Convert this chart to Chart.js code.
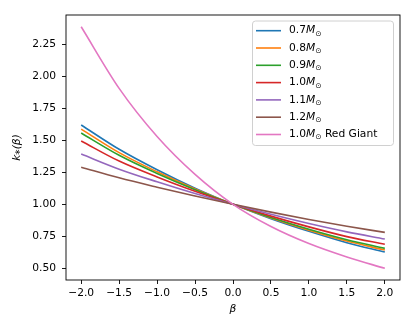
<!DOCTYPE html>
<html lang="en">
<head>
    <meta charset="UTF-8">
    <title>k*(beta)</title>
    <style>
        body { margin: 0; background: #fff; }
        #wrap { width: 415px; height: 332px; }
    </style>
</head>
<body>
    <div id="wrap"><canvas id="kChart" width="415" height="332"></canvas></div>
    <script src="https://cdn.jsdelivr.net/npm/chart.js"></script>
    <script>
        // values at beta = -2 ... 2 step 0.5
        const beta = [-2, -1.5, -1, -0.5, 0, 0.5, 1, 1.5, 2];
        const k07 = [1.62, 1.43, 1.27, 1.126, 1.0, 0.888, 0.789, 0.70, 0.627];
        const k08 = [1.588, 1.404, 1.254, 1.12, 1.0, 0.893, 0.798, 0.713, 0.643];
        const k09 = [1.557, 1.383, 1.241, 1.114, 1.0, 0.898, 0.806, 0.724, 0.656];
        const k10 = [1.495, 1.338, 1.214, 1.102, 1.0, 0.908, 0.824, 0.748, 0.688];
        const k11 = [1.393, 1.275, 1.176, 1.084, 1.0, 0.922, 0.85, 0.785, 0.729];
        const k12 = [1.29, 1.207, 1.134, 1.065, 1.0, 0.939, 0.882, 0.829, 0.781];
        const kRG = [2.387, 1.906, 1.53, 1.234, 1.0, 0.827, 0.694, 0.589, 0.50];

        const masses = ['0.7', '0.8', '0.9', '1.0', '1.1', '1.2', '1.0'];
        const suffixes = ['', '', '', '', '', '', ' Red Giant'];
        const colors = ['#1f77b4', '#ff7f0e', '#2ca02c', '#d62728', '#9467bd', '#8c564b', '#e377c2'];
        const series = [k07, k08, k09, k10, k11, k12, kRG];

        const xTicks = [-2, -1.5, -1, -0.5, 0, 0.5, 1, 1.5, 2];
        const yTicks = [0.5, 0.75, 1.0, 1.25, 1.5, 1.75, 2.0, 2.25];

        const FONT = 'DejaVu Sans';
        Chart.defaults.color = '#000';
        Chart.defaults.font.family = FONT;
        Chart.defaults.font.size = 10.7;

        const datasets = series.map((vals, i) => ({
            label: masses[i] + 'M' + suffixes[i],
            data: vals.map((v, j) => ({ x: beta[j], y: v })),
            borderColor: colors[i],
            backgroundColor: colors[i],
            borderWidth: 1.6,
            pointRadius: 0,
            cubicInterpolationMode: 'monotone',
            order: series.length - i
        }));

        const fmt = v => (v < 0 ? '\u2212' : '') + Math.abs(v).toFixed(v % 0.5 === 0 && yTicks.indexOf(v) < 0 ? 1 : 2);

        const framePlugin = {
            id: 'frame',
            afterDraw(chart) {
                const { ctx, chartArea: a } = chart;
                ctx.save();
                ctx.strokeStyle = '#000';
                ctx.lineWidth = 0.9;
                ctx.strokeRect(a.left, a.top, a.right - a.left, a.bottom - a.top);

                // legend box, matplotlib style, upper right
                const bx = 252.5, by = 21, bw = 141, bh = 124.5, r = 3;
                ctx.beginPath();
                ctx.moveTo(bx + r, by);
                ctx.arcTo(bx + bw, by, bx + bw, by + bh, r);
                ctx.arcTo(bx + bw, by + bh, bx, by + bh, r);
                ctx.arcTo(bx, by + bh, bx, by, r);
                ctx.arcTo(bx, by, bx + bw, by, r);
                ctx.closePath();
                ctx.fillStyle = 'rgba(255,255,255,0.8)';
                ctx.fill();
                ctx.strokeStyle = '#d0d0d0';
                ctx.lineWidth = 1;
                ctx.stroke();

                chart.data.datasets.forEach((ds, i) => {
                    const cy = 30.7 + i * 17.3;
                    ctx.strokeStyle = ds.borderColor;
                    ctx.lineWidth = 1.6;
                    ctx.beginPath();
                    ctx.moveTo(256, cy);
                    ctx.lineTo(281, cy);
                    ctx.stroke();

                    ctx.fillStyle = '#000';
                    ctx.textBaseline = 'middle';
                    ctx.textAlign = 'left';
                    let x = 289;
                    ctx.font = '10.7px ' + FONT;
                    ctx.fillText(masses[i], x, cy);
                    x += ctx.measureText(masses[i]).width;
                    ctx.font = 'italic 10.7px ' + FONT;
                    ctx.fillText('M', x, cy);
                    x += ctx.measureText('M').width;
                    ctx.font = '7.5px ' + FONT;
                    ctx.fillText('\u2299', x, cy + 3);
                    x += ctx.measureText('\u2299').width;
                    if (suffixes[i]) {
                        ctx.font = '10.7px ' + FONT;
                        ctx.fillText(suffixes[i], x, cy);
                    }
                });
                ctx.restore();
            }
        };

        new Chart(document.getElementById('kChart'), {
            type: 'line',
            data: { datasets },
            options: {
                responsive: false,
                animation: false,
                layout: { padding: { left: 0, right: 15, top: 15, bottom: 0 } },
                plugins: { legend: { display: false }, tooltip: { enabled: false } },
                scales: {
                    x: {
                        type: 'linear',
                        min: -2.2,
                        max: 2.2,
                        afterBuildTicks: s => { s.ticks = xTicks.map(v => ({ value: v })); },
                        afterFit: s => { s.height = 52; },
                        ticks: {
                            padding: 3,
                            maxRotation: 0,
                            callback: v => (v < 0 ? '\u2212' : '') + Math.abs(v).toFixed(1)
                        },
                        grid: { drawOnChartArea: false, drawTicks: true, tickLength: 4, color: '#000', lineWidth: 0.9 },
                        border: { display: false },
                        title: {
                            display: true,
                            text: '\u03b2',
                            font: { style: 'italic', size: 10.7 },
                            padding: { top: 0, bottom: 16 }
                        }
                    },
                    y: {
                        type: 'linear',
                        min: 0.409,
                        max: 2.479,
                        afterBuildTicks: s => { s.ticks = yTicks.map(v => ({ value: v })); },
                        afterFit: s => { s.width = 66; },
                        ticks: {
                            padding: 6,
                            callback: v => v.toFixed(2)
                        },
                        grid: { drawOnChartArea: false, drawTicks: true, tickLength: 4, color: '#000', lineWidth: 0.9 },
                        border: { display: false },
                        title: {
                            display: true,
                            text: 'k\u204e(\u03b2)',
                            font: { style: 'italic', size: 10.7 },
                            padding: { top: 11, bottom: 0 }
                        }
                    }
                }
            },
            plugins: [framePlugin]
        });
    </script>
</body>
</html>
